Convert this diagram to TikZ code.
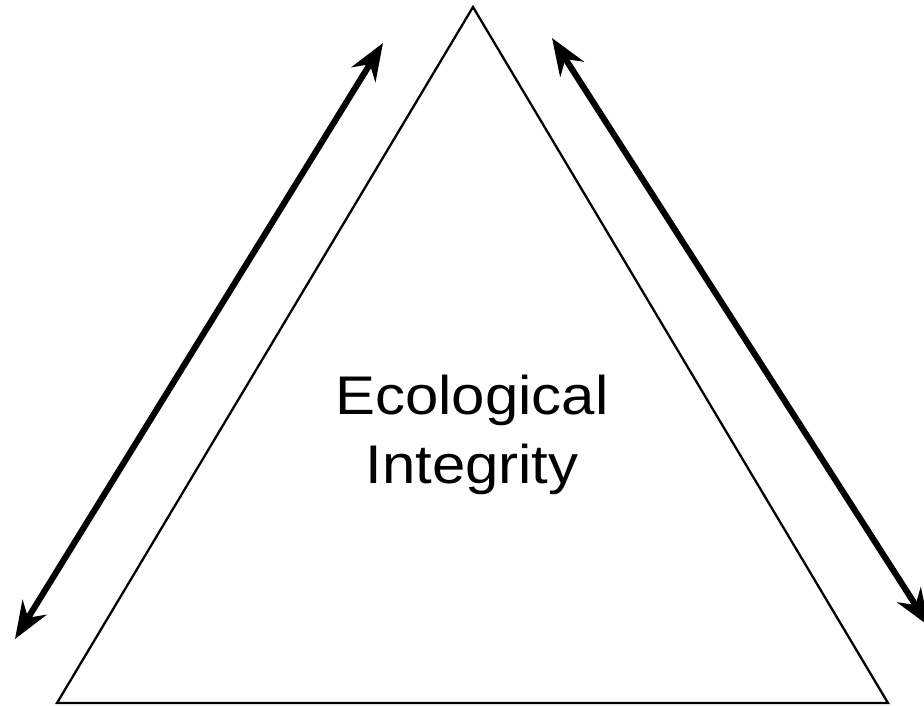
\documentclass[tikz,border=0pt]{standalone}
\usepackage{fontspec}
\newfontfamily\labelfont[FakeStretch=1.1]{Liberation Sans}
\usetikzlibrary{arrows.meta}

\begin{document}
\begin{tikzpicture}[x=0.02cm, y=-0.02cm,
    side/.style={line width=1.3pt, line join=miter},
    link/.style={line width=3.5pt, {Stealth[length=7.4mm, width=5.6mm]}-{Stealth[length=7.4mm, width=5.6mm]}},
    centretext/.style={align=center, font=\labelfont\fontsize{31}{39.7}\selectfont}]
    \useasboundingbox (0,0) rectangle (924,706);

    % triangle
    \coordinate (apex) at (473,7);
    \coordinate (baseL) at (57,703);
    \coordinate (baseR) at (888,703);
    \draw[side] (apex) -- (baseL) -- (baseR) -- cycle;

    % left arrow
    \coordinate (lefttop) at (383,43);
    \coordinate (leftbot) at (15,639);
    \draw[link] (leftbot) -- (lefttop);

    % right arrow
    \coordinate (righttop) at (552,38);
    \coordinate (rightbot) at (929,626);
    \draw[link] (righttop) -- (rightbot);

    % label
    \node[centretext] (eco) at (472,435) {Ecological\\Integrity};
\end{tikzpicture}
\end{document}
